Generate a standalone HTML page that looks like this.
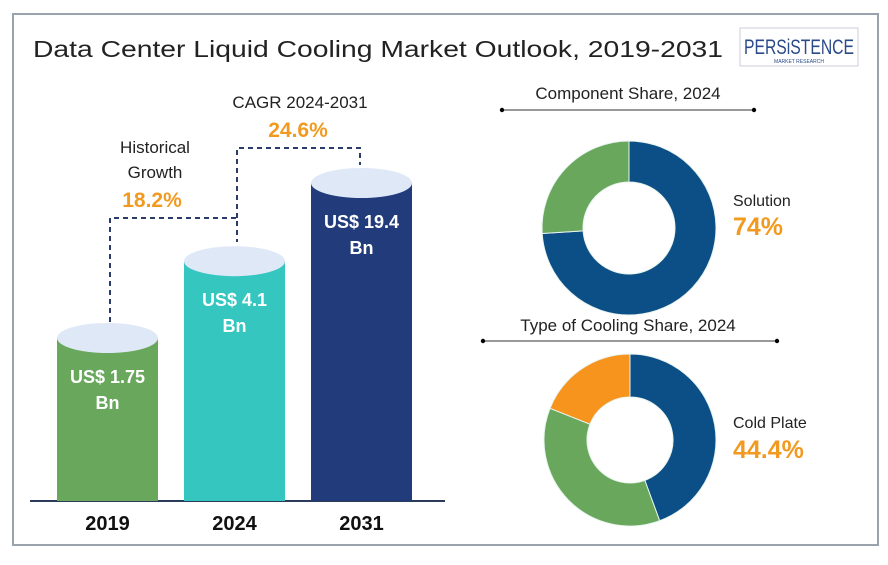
<!DOCTYPE html>
<html><head><meta charset="utf-8"><style>
body{margin:0;background:#fff;}
svg text{font-family:"Liberation Sans",sans-serif;}
</style></head><body>
<svg id="c" width="888" height="560" viewBox="0 0 888 560" xmlns="http://www.w3.org/2000/svg">
<rect x="13" y="14" width="865" height="531" fill="#fff" stroke="#9aa3ad" stroke-width="2"/>
<text x="33" y="57" font-size="23" fill="#222" textLength="690" lengthAdjust="spacingAndGlyphs">Data Center Liquid Cooling Market Outlook, 2019-2031</text>
<g>
<rect x="740" y="28" width="118" height="38" fill="#fff" stroke="#ccd" stroke-width="1"/>
<text x="799" y="54" font-size="21" fill="#2a4a8a" text-anchor="middle" textLength="110" lengthAdjust="spacingAndGlyphs">PERSiSTENCE</text>
<text x="799" y="63" font-size="5" fill="#2a4a8a" text-anchor="middle">MARKET RESEARCH</text>
</g>
<line x1="30" y1="501" x2="445" y2="501" stroke="#2b3b5a" stroke-width="2"/>
<g id="bars"></g>
<g id="donuts"></g>
<path d="M110 322 V218 H237 V242" fill="none" stroke="#2b3b6a" stroke-width="2" stroke-dasharray="5,4"/>
<path d="M237 218 V148 H360 V165" fill="none" stroke="#2b3b6a" stroke-width="2" stroke-dasharray="5,4"/>
<text x="155" y="153" font-size="17" fill="#222" text-anchor="middle">Historical</text>
<text x="155" y="178" font-size="17" fill="#222" text-anchor="middle">Growth</text>
<text x="152" y="207" font-size="21" font-weight="bold" fill="#f29a1f" text-anchor="middle">18.2%</text>
<text x="300" y="108" font-size="17" fill="#222" text-anchor="middle">CAGR 2024-2031</text>
<text x="298" y="137" font-size="21" font-weight="bold" fill="#f29a1f" text-anchor="middle">24.6%</text>
<text x="628" y="99" font-size="17" fill="#222" text-anchor="middle">Component Share, 2024</text>
<g><line x1="502" y1="110" x2="754" y2="110" stroke="#333" stroke-width="1"/><circle cx="502" cy="110" r="2.2"/><circle cx="754" cy="110" r="2.2"/></g>
<text x="628" y="331" font-size="17" fill="#222" text-anchor="middle">Type of Cooling Share, 2024</text>
<g><line x1="483" y1="341" x2="777" y2="341" stroke="#333" stroke-width="1"/><circle cx="483" cy="341" r="2.2"/><circle cx="777" cy="341" r="2.2"/></g>
<text x="733" y="206" font-size="16" fill="#222">Solution</text>
<text x="733" y="235" font-size="25" font-weight="bold" fill="#f29a1f">74%</text>
<text x="733" y="428" font-size="16" fill="#222">Cold Plate</text>
<text x="733" y="458" font-size="25" font-weight="bold" fill="#f29a1f">44.4%</text>
</svg>
<script>
const years = ["2019","2024","2031"];
const marketValues = [1.75, 4.1, 19.4];
const valueLabels = ["US$ 1.75","US$ 4.1","US$ 19.4"];
const componentShares = [74, 26];
const coolingShares = [44.4, 36.6, 19.0];

const NS="http://www.w3.org/2000/svg";
function mk(tag, attrs, parent){const e=document.createElementNS(NS,tag);for(const k in attrs)e.setAttribute(k,attrs[k]);parent.appendChild(e);return e;}
const barColors=["#69a85c","#35c6c0","#223c7b"];
const base=501, bw=101, rx=50.5, ry=15;
function yScale(v){return base-(384.5-293/Math.sqrt(v));}
function xScale(i){return 57+i*127;}
const bars=document.getElementById('bars');
years.forEach((yr,i)=>{
  const x=xScale(i), top=yScale(marketValues[i]), cx=x+bw/2;
  const g=mk('g',{},bars);
  
  
  mk('rect',{x:x,y:top,width:bw,height:base-top,fill:barColors[i]},g);
  mk('ellipse',{cx:cx,cy:top,rx:rx,ry:ry,fill:"#dfe8f6"},g);
  const t1=mk('text',{x:cx,y:top+45,'font-size':18,'font-weight':'bold',fill:'#fff','text-anchor':'middle'},g);
  t1.textContent=valueLabels[i];
  
  
  const t2=mk('text',{x:cx,y:top+71,'font-size':18,'font-weight':'bold',fill:'#fff','text-anchor':'middle'},g);
  t2.textContent="Bn";
  
  
  const yl=mk('text',{x:cx,y:530,'font-size':20,'font-weight':'bold',fill:'#111','text-anchor':'middle'},bars);
  yl.textContent=yr;
  
  
});
const donuts=document.getElementById('donuts');
function donut(cx,cy,ro,ri,vals,cols,name){
  const total=vals.reduce((a,b)=>a+b,0);let a0=0;
  vals.forEach((v,i)=>{
    const a1=a0+v/total*2*Math.PI;
    const p=(a,r)=>[cx+r*Math.sin(a),cy-r*Math.cos(a)];
    const large=(a1-a0)>Math.PI?1:0;
    const [x0,y0]=p(a0,ro),[x1,y1]=p(a1,ro),[x2,y2]=p(a1,ri),[x3,y3]=p(a0,ri);
    const s=mk('path',{d:`M${x0} ${y0}A${ro} ${ro} 0 ${large} 1 ${x1} ${y1}L${x2} ${y2}A${ri} ${ri} 0 ${large} 0 ${x3} ${y3}Z`,fill:cols[i],stroke:'#e8f4f0','stroke-width':1},donuts);
    
    
    a0=a1;
  });
}
donut(629,228,87,46,componentShares,["#0b4f86","#69a85c"],"component");
donut(630,440,86,43,coolingShares,["#0b4f86","#69a85c","#f7941d"],"cooling");
</script>
</body></html>
